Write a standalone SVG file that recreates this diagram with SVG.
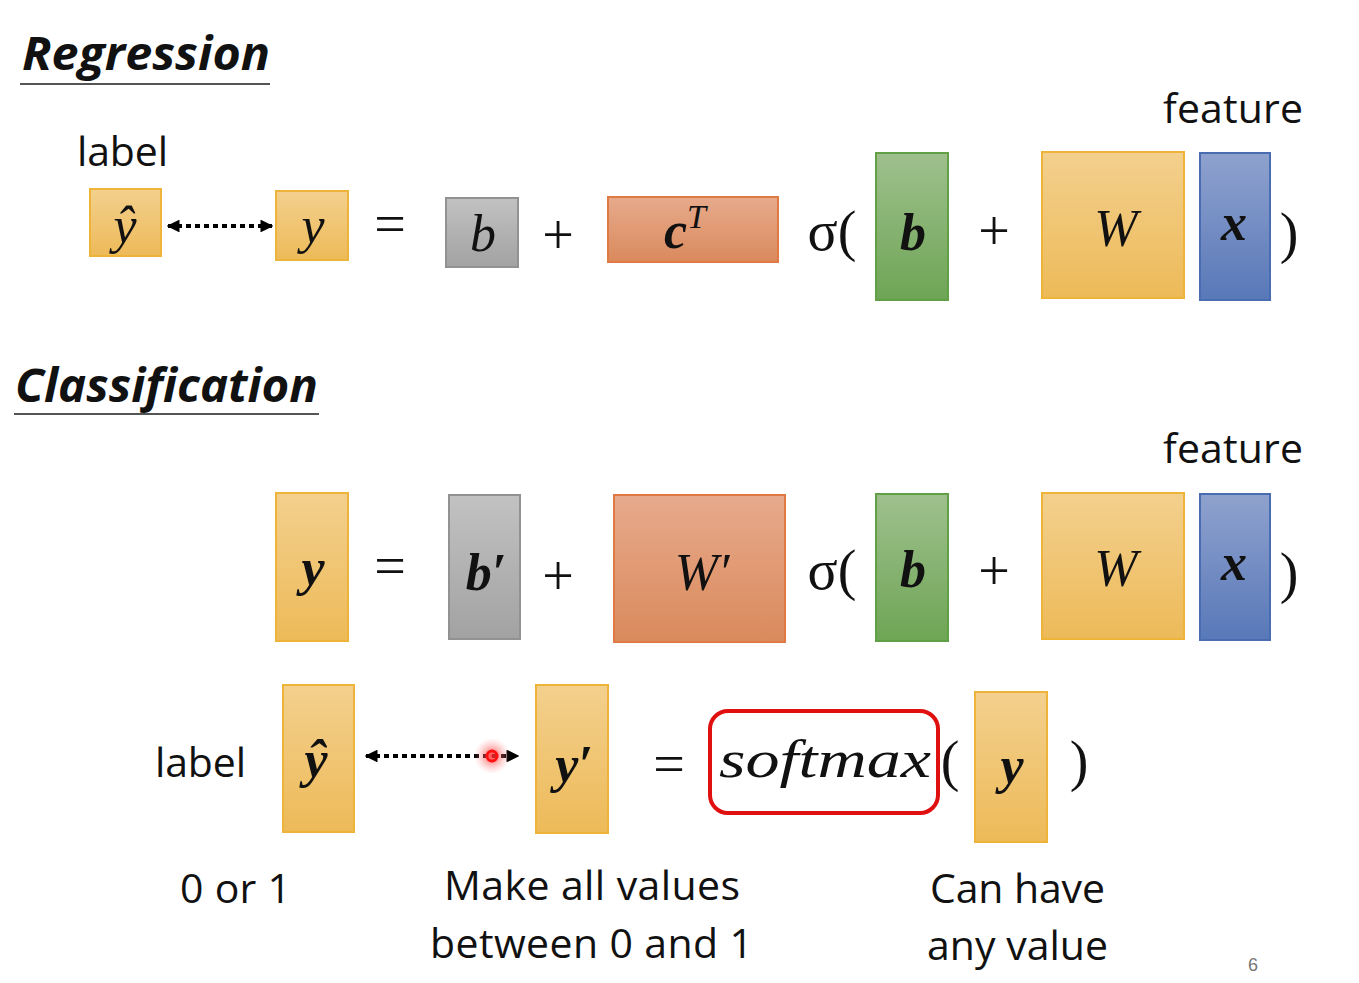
<svg xmlns="http://www.w3.org/2000/svg" width="1359" height="983" viewBox="0 0 1359 983">
<defs>
<linearGradient id="gY" x1="0" y1="0" x2="0" y2="1"><stop offset="0" stop-color="#F3D08E"/><stop offset="1" stop-color="#EDBA58"/></linearGradient>
<linearGradient id="gG" x1="0" y1="0" x2="0" y2="1"><stop offset="0" stop-color="#C2C2C2"/><stop offset="1" stop-color="#A2A2A2"/></linearGradient>
<linearGradient id="gO" x1="0" y1="0" x2="0" y2="1"><stop offset="0" stop-color="#E7AA8C"/><stop offset="1" stop-color="#DA8A5C"/></linearGradient>
<linearGradient id="gGr" x1="0" y1="0" x2="0" y2="1"><stop offset="0" stop-color="#9FC08E"/><stop offset="1" stop-color="#6EA555"/></linearGradient>
<linearGradient id="gB" x1="0" y1="0" x2="0" y2="1"><stop offset="0" stop-color="#8FA2CE"/><stop offset="1" stop-color="#5878B8"/></linearGradient>
<radialGradient id="glow"><stop offset="0" stop-color="#FF2020" stop-opacity="0.9"/><stop offset="0.5" stop-color="#FF6060" stop-opacity="0.4"/><stop offset="1" stop-color="#FF9090" stop-opacity="0"/></radialGradient>
<marker id="ah" viewBox="0 0 10 10" refX="9" refY="5" markerWidth="3.2" markerHeight="3.2" orient="auto-start-reverse"><path d="M0,0 L10,5 L0,10 z" fill="#000"/></marker>
</defs>
<style>
.y{fill:url(#gY);stroke:#EEB43A;stroke-width:2}
.g{fill:url(#gG);stroke:#929292;stroke-width:2}
.o{fill:url(#gO);stroke:#E07A44;stroke-width:2}
.gr{fill:url(#gGr);stroke:#62A048;stroke-width:2}
.b{fill:url(#gB);stroke:#4A6CB0;stroke-width:2}
.m{font-family:"Liberation Serif",serif;font-style:italic;font-size:52px;fill:#111;text-anchor:middle}
.mb{font-family:"Liberation Serif",serif;font-style:italic;font-weight:bold;font-size:52px;fill:#111;text-anchor:middle}
.op{font-family:"Liberation Serif",serif;font-size:56px;fill:#111;text-anchor:middle}
.t{font-family:"Open Sans","Liberation Sans",sans-serif;font-size:41px;fill:#111}
.h{font-family:"Open Sans","Liberation Sans",sans-serif;font-size:46px;font-weight:bold;font-style:italic;fill:#111}
.conn{stroke:#000;stroke-width:4;stroke-dasharray:5 4;fill:none}
</style>
<g id="titles">
<text class="h" x="22" y="70" textLength="248" lengthAdjust="spacingAndGlyphs">Regression</text>
<line x1="20" y1="84" x2="270" y2="84" stroke="#555" stroke-width="2"/>
<text class="h" x="15" y="402" textLength="303" lengthAdjust="spacingAndGlyphs">Classification</text>
<line x1="14" y1="414" x2="319" y2="414" stroke="#555" stroke-width="2"/>
</g>
<g id="labels">
<text class="t" x="77" y="166" textLength="91">label</text>
<text class="t" x="1163" y="123" textLength="140">feature</text>
<text class="t" x="1163" y="463" textLength="140">feature</text>
<text class="t" x="155" y="777" textLength="91">label</text>
<text class="t" x="180" y="903" textLength="111">0 or 1</text>
<text class="t" x="444" y="900" textLength="296">Make all values</text>
<text class="t" x="430" y="958" textLength="323">between 0 and 1</text>
<text class="t" x="930" y="903" textLength="175">Can have</text>
<text class="t" x="927" y="960" textLength="181">any value</text>
<text x="1248" y="971" font-family="Liberation Sans,sans-serif" font-size="18" fill="#777">6</text>
</g>
<g id="reg-yhat"><rect class="y" x="90" y="189" width="71" height="67"/><text class="m" x="125" y="243">ŷ</text></g>
<g id="reg-y"><rect class="y" x="276" y="191" width="72" height="69"/><text class="m" x="313" y="243">y</text></g>
<text class="op" x="390" y="243">=</text>
<g id="reg-b"><rect class="g" x="446" y="198" width="72" height="69"/><text class="m" x="483" y="251">b</text></g>
<text class="op" x="558" y="254">+</text>
<g id="reg-cT"><rect class="o" x="608" y="197" width="170" height="65"/><text class="mb" x="685" y="248">c<tspan font-size="34" font-weight="normal" dy="-20">T</tspan></text></g>
<text class="op" x="832" y="250">σ(</text>
<g id="reg-b2"><rect class="gr" x="876" y="153" width="72" height="147"/><text class="mb" x="913" y="250">b</text></g>
<text class="op" x="994" y="250">+</text>
<g id="reg-W"><rect class="y" x="1042" y="152" width="142" height="146"/><text class="m" x="1116" y="246">W</text></g>
<g id="reg-x"><rect class="b" x="1200" y="153" width="70" height="147"/><text class="mb" x="1234" y="240">x</text></g>
<text class="op" x="1289" y="252">)</text>

<g id="cls-y"><rect class="y" x="276" y="493" width="72" height="148"/><text class="mb" x="313" y="585">y</text></g>
<text class="op" x="390" y="585">=</text>
<g id="cls-b"><rect class="g" x="449" y="495" width="71" height="144"/><text class="mb" x="486" y="590">b′</text></g>
<text class="op" x="558" y="595">+</text>
<g id="cls-W"><rect class="o" x="614" y="495" width="171" height="147"/><text class="m" x="702" y="590">W′</text></g>
<text class="op" x="832" y="589">σ(</text>
<g id="cls-b2"><rect class="gr" x="876" y="494" width="72" height="147"/><text class="mb" x="913" y="587">b</text></g>
<text class="op" x="994" y="590">+</text>
<g id="cls-W2"><rect class="y" x="1042" y="493" width="142" height="146"/><text class="m" x="1116" y="586">W</text></g>
<g id="cls-x"><rect class="b" x="1200" y="494" width="70" height="146"/><text class="mb" x="1234" y="580">x</text></g>
<text class="op" x="1289" y="592">)</text>

<g id="cls-yhat"><rect class="y" x="283" y="685" width="71" height="147"/><text class="mb" x="316" y="777">ŷ</text></g>
<g id="cls-yprime"><rect class="y" x="536" y="685" width="72" height="148"/><text class="mb" x="574" y="782">y′</text></g>
<text class="op" x="669" y="783">=</text>
<g id="softmax"><rect x="710" y="711" width="228" height="102" rx="18" fill="none" stroke="#E01010" stroke-width="4"/><text class="m" x="825" y="777" font-size="54" textLength="212" lengthAdjust="spacingAndGlyphs">softmax</text></g>
<text class="op" x="950" y="780">(</text>
<g id="cls-y2"><rect class="y" x="975" y="692" width="72" height="150"/><text class="mb" x="1012" y="783">y</text></g>
<text class="op" x="1079" y="780">)</text>

<g id="connectors">
<line class="conn" x1="168" y1="226" x2="272" y2="226" marker-start="url(#ah)" marker-end="url(#ah)"/>
<line class="conn" x1="366" y1="756" x2="518" y2="756" marker-start="url(#ah)" marker-end="url(#ah)"/>
</g>
<g id="pointer"><circle cx="492" cy="756" r="18" fill="url(#glow)"/><circle cx="492" cy="756" r="5" fill="none" stroke="#FF1010" stroke-width="3"/></g>
</svg>
